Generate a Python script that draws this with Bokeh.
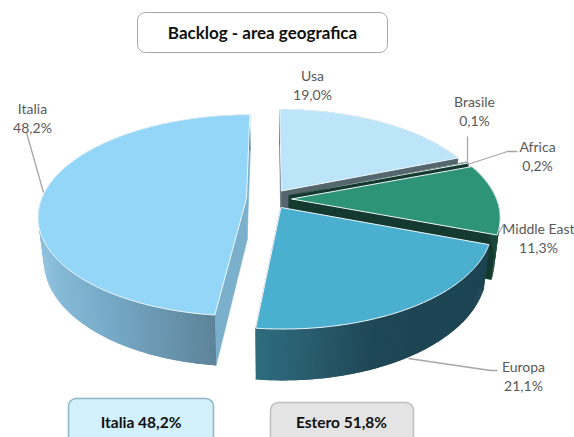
import math
from bokeh.plotting import figure
from bokeh.models import Range1d, ColumnDataSource
from bokeh.core.properties import value
from bokeh.embed import file_html
from bokeh.resources import INLINE

# ---- data
categories = ["Usa", "Brasile", "Africa", "Middle East", "Europa", "Italia"]
shares = [19.0, 0.1, 0.2, 11.3, 21.1, 48.2]
box_names = ["Italia", "Estero"]
box_shares = [48.2, 51.8]
title_text = "Backlog - area geografica"

# ---- styles / layout
top_colors = ["#bde5fa", "#e8f2f0", "#e8f2f0", "#2e9478", "#4bb0cf", "#93d6f7"]
top_edge = [1, 0, 0, 1, 1, 1]
side_colors = ["#55666f", "#4a5f66", "#143a30", "#143a30", "#1e4654", "#7bb0cc"]
wall_ramps = [
    [(0, "#55666f"), (1, "#55666f")],
    [(0, "#4a5f66"), (1, "#4a5f66")],
    [(0, "#143a30"), (1, "#143a30")],
    [(0, "#1b4a3b"), (1, "#1b4a3b")],
    [(255, "#2e6d7e"), (320, "#27586a"), (375, "#1e4654"), (500, "#1d4452")],
    [(40, "#8cc0dd"), (110, "#76a9c7"), (215, "#5d8398")],
]
explode = [0.10, 0.10, 0.10, 0.105, 0.10, 0.115]
CX, CY, RX, RY, K, DEPTH, SHRINK = 269.5, 198.5, 205.0, 98.0, 0.168, 42.0, 0.975
LABEL_POS = [(312, 75), (474, 101), (537, 146), (538, 228), (523, 366), (32, 108)]
LINE_GAP = 19
LEADERS = [
    ([26, 43], [132, 192]),
    ([467, 467], [136, 163]),
    ([517, 507, 467], [151, 151, 164]),
    ([498, 503], [233, 224]),
    ([408, 490, 497], [358, 370, 370]),
]
W, H = 574, 437
FONT = "Lato"

p = figure(width=W, height=H, x_range=Range1d(0, W), y_range=Range1d(H, 0),
           x_axis_type=None, y_axis_type=None, toolbar_location=None,
           output_backend="svg", min_border=0, outline_line_color=None,
           background_fill_color="white", border_fill_color="white")
p.grid.visible = False


def project(X, Y):
    w = 1 - K * Y
    return CX + RX * X / w, CY + RY * Y / w, w


def lower(X, Y):
    sx, sy, w = project(X, Y)
    return CX + (sx - CX) * SHRINK, sy + DEPTH / w


def mix(ramp, x):
    def h(c):
        return [int(c[i:i + 2], 16) for i in (1, 3, 5)]
    if x <= ramp[0][0]:
        return ramp[0][1]
    for (a, ca), (b, cb) in zip(ramp, ramp[1:]):
        if x <= b:
            t = (x - a) / (b - a)
            r = [round(u + (v - u) * t) for u, v in zip(h(ca), h(cb))]
            return "#%02x%02x%02x" % tuple(r)
    return ramp[-1][1]


def rounded(x0, y0, x1, y1, r):
    xs, ys = [], []
    for cx, cy, a0 in ((x1 - r, y0 + r, -90), (x1 - r, y1 - r, 0), (x0 + r, y1 - r, 90), (x0 + r, y0 + r, 180)):
        for i in range(9):
            a = math.radians(a0 + i * 90 / 8)
            xs.append(cx + r * math.cos(a))
            ys.append(cy + r * math.sin(a))
    return xs, ys


total = sum(shares)
start = 0.0
for i, share in enumerate(shares):
    a0 = start
    a1 = start + 2 * math.pi * share / total
    start = a1
    mid = (a0 + a1) / 2
    ox, oy = explode[i] * math.sin(mid), -explode[i] * math.cos(mid)
    n = max(2, int(math.degrees(a1 - a0) * 2))
    pts = [(ox + math.sin(a0 + (a1 - a0) * j / n), oy - math.cos(a0 + (a1 - a0) * j / n)) for j in range(n + 1)]

    # radial cut walls
    for (X, Y) in (pts[0], pts[-1]):
        q = [project(ox, oy)[:2], project(X, Y)[:2], lower(X, Y), lower(ox, oy)]
        p.patch([c[0] for c in q], [c[1] for c in q], fill_color=side_colors[i], line_color=side_colors[i], line_width=0.5)

    # outer wall: strips drawn in order, each reaching back over the one before, so no seams show
    sxs, sys, cols = [], [], []
    for j in range(n):
        A, B = pts[max(j - 1, 0)], pts[j + 1]
        q = [project(*A)[:2], project(*B)[:2], lower(*B), lower(*A)]
        sxs.append([c[0] for c in q])
        sys.append([c[1] for c in q])
        cols.append(mix(wall_ramps[i], sum(c[0] for c in q) / 4))
    p.patches("xs", "ys", source=ColumnDataSource(dict(xs=sxs, ys=sys, c=cols)),
              fill_color="c", line_color=None)

    # top face
    t = [project(ox, oy)[:2]] + [project(*A)[:2] for A in pts]
    p.patch([c[0] for c in t], [c[1] for c in t], fill_color=top_colors[i],
            line_color="#eef6fa" if top_edge[i] else None, line_width=1)

# leader lines
for xs, ys in LEADERS:
    p.line(xs, ys, line_color="#a6a6a6", line_width=1.3)

# labels
for name, share, (x, y) in zip(categories, shares, LABEL_POS):
    pct = f"{share:.1f}".replace(".", ",") + "%"
    p.text([x, x], [y, y + LINE_GAP], text=[name, pct], text_align="center", text_baseline="middle",
           text_font=value(FONT), text_font_size="14px", text_color="#595959")

# title and bottom boxes
bx, by = rounded(137, 12, 387, 52, 8)
p.patch(bx, by, fill_color="white", line_color="#a6a6a6", line_width=1)
p.text([262], [31.5], text=[title_text], text_align="center", text_baseline="middle",
       text_font=value(FONT), text_font_size="17px", text_font_style="bold", text_color="#111111")

box_geo = [(68, 398, 213, 460, "#d3f0fd", "#8fb5c5", 140.5), (270, 402, 413, 460, "#e4e4e4", "#bfbfbf", 341)]
for name, share, (x0, y0, x1, y1, fc, lc, tx) in zip(box_names, box_shares, box_geo):
    bx, by = rounded(x0, y0, x1, y1, 8)
    p.patch(bx, by, fill_color=fc, line_color=lc, line_width=1.5)
    p.text([tx], [421.5], text=[f"{name} " + f"{share:.1f}".replace(".", ",") + "%"], text_align="center",
           text_baseline="middle", text_font=value(FONT), text_font_size="15.5px", text_font_style="bold",
           text_color="#111111")

open("out.html", "w").write(file_html(p, INLINE))
